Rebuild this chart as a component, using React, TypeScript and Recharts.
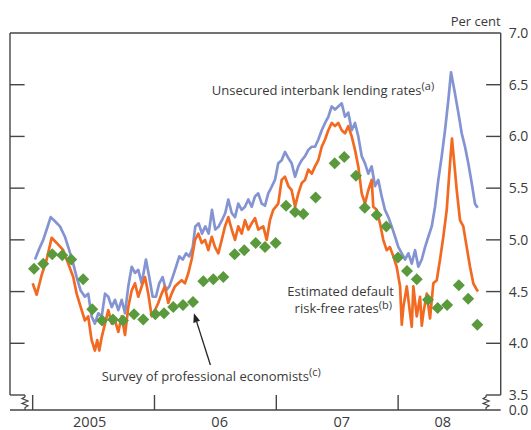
import React from 'react';
import { ComposedChart, Line, Scatter, XAxis, YAxis, ReferenceLine, ReferenceDot } from 'recharts';

const FONT = '"Open Sans", "Noto Sans", sans-serif';
const TEXT = '#3a3a3a';
const FRAME = '#454545';
const BLUE = '#8494d3';
const ORANGE = '#f26a22';
const GREEN = '#5b9a3c';

// axis ranges (decimal years / per cent)
const X_MIN = 2004.814;
const X_MAX = 2008.842;
const Y_MIN = 3.355; // shown as 0.0 below the axis break
const Y_MAX = 7.0;
const BREAK_LEVEL = 3.5;
const BREAK_LEFT = 2004.937;
const BREAK_RIGHT = 2008.722;

const yearBoundaries = [2005, 2006, 2007, 2008];
const yearLabelPositions = [2005.468, 2006.535, 2007.537, 2008.367];
const yearLabels = ['2005', '06', '07', '08'];
const yTicks = [Y_MIN, 3.5, 4.0, 4.5, 5.0, 5.5, 6.0, 6.5, 7.0];
const innerTickLevels = [4.0, 4.5, 5.0, 5.5, 6.0, 6.5];

// Unsecured interbank lending rates (a) [decimal year, per cent]
const interbank: [number, number][] = [
  [2005.019, 4.81], [2005.060, 4.93], [2005.087, 5.00], [2005.115, 5.10], [2005.148, 5.22],
  [2005.183, 5.18], [2005.224, 5.13], [2005.265, 5.03], [2005.300, 4.90], [2005.333, 4.77],
  [2005.361, 4.64], [2005.394, 4.51], [2005.429, 4.45], [2005.456, 4.48], [2005.484, 4.26],
  [2005.511, 4.19], [2005.539, 4.29], [2005.567, 4.26], [2005.594, 4.48], [2005.621, 4.45],
  [2005.649, 4.35], [2005.676, 4.42], [2005.703, 4.32], [2005.731, 4.42], [2005.758, 4.29],
  [2005.785, 4.55], [2005.813, 4.74], [2005.840, 4.68], [2005.867, 4.71], [2005.895, 4.58],
  [2005.930, 4.81], [2005.957, 4.64], [2005.985, 4.45], [2006.012, 4.45], [2006.039, 4.58],
  [2006.067, 4.64], [2006.094, 4.51], [2006.122, 4.55], [2006.149, 4.64], [2006.177, 4.74],
  [2006.204, 4.84], [2006.232, 4.81], [2006.259, 4.87], [2006.286, 4.84], [2006.314, 4.93],
  [2006.335, 5.13], [2006.363, 5.16], [2006.390, 5.06], [2006.417, 5.13], [2006.445, 5.06],
  [2006.472, 5.29], [2006.499, 5.10], [2006.527, 5.13], [2006.554, 5.19], [2006.581, 5.26],
  [2006.606, 5.39], [2006.634, 5.26], [2006.661, 5.22], [2006.688, 5.35], [2006.716, 5.29],
  [2006.743, 5.32], [2006.770, 5.39], [2006.798, 5.32], [2006.825, 5.42], [2006.852, 5.45],
  [2006.880, 5.35], [2006.907, 5.33], [2006.934, 5.45], [2006.948, 5.48], [2006.989, 5.58],
  [2007.016, 5.74], [2007.044, 5.77], [2007.071, 5.85], [2007.099, 5.79], [2007.126, 5.74],
  [2007.154, 5.61], [2007.181, 5.71], [2007.209, 5.77], [2007.236, 5.81], [2007.263, 5.87],
  [2007.291, 5.90], [2007.318, 5.90], [2007.345, 5.97], [2007.373, 6.06], [2007.400, 6.13],
  [2007.427, 6.19], [2007.455, 6.29], [2007.482, 6.26], [2007.509, 6.29], [2007.537, 6.32],
  [2007.564, 6.19], [2007.591, 6.23], [2007.619, 6.06], [2007.646, 6.13], [2007.673, 6.00],
  [2007.701, 5.81], [2007.728, 5.74], [2007.755, 5.64], [2007.783, 5.71], [2007.810, 5.52],
  [2007.837, 5.58], [2007.865, 5.42], [2007.892, 5.29], [2007.920, 5.22], [2007.947, 5.13],
  [2007.975, 5.03], [2008.002, 4.93], [2008.030, 4.87], [2008.057, 4.81], [2008.084, 4.87],
  [2008.112, 4.77], [2008.139, 4.90], [2008.166, 4.74], [2008.194, 4.81], [2008.221, 4.93],
  [2008.248, 5.03], [2008.276, 5.13], [2008.303, 5.32], [2008.330, 5.58], [2008.358, 5.81],
  [2008.385, 6.06], [2008.412, 6.35], [2008.434, 6.62], [2008.466, 6.42], [2008.494, 6.23],
  [2008.522, 6.03], [2008.549, 5.90], [2008.576, 5.74], [2008.604, 5.55], [2008.631, 5.35],
  [2008.653, 5.31],
];

// Estimated default risk-free rates (b)
const riskFree: [number, number][] = [
  [2005.000, 4.58], [2005.033, 4.47], [2005.074, 4.66], [2005.115, 4.81], [2005.156, 5.02],
  [2005.197, 4.97], [2005.251, 4.90], [2005.292, 4.77], [2005.333, 4.64], [2005.361, 4.48],
  [2005.402, 4.32], [2005.429, 4.22], [2005.456, 4.26], [2005.484, 4.03], [2005.511, 3.93],
  [2005.530, 4.03], [2005.547, 3.93], [2005.567, 4.06], [2005.594, 4.19], [2005.621, 4.32],
  [2005.649, 4.19], [2005.676, 4.22], [2005.703, 4.11], [2005.731, 4.26], [2005.758, 4.08],
  [2005.785, 4.35], [2005.813, 4.51], [2005.840, 4.58], [2005.867, 4.45], [2005.895, 4.55],
  [2005.922, 4.64], [2005.949, 4.48], [2005.977, 4.26], [2006.004, 4.32], [2006.031, 4.39],
  [2006.059, 4.48], [2006.086, 4.55], [2006.113, 4.39], [2006.141, 4.48], [2006.168, 4.55],
  [2006.195, 4.58], [2006.223, 4.61], [2006.250, 4.58], [2006.278, 4.68], [2006.305, 4.81],
  [2006.333, 5.00], [2006.360, 5.06], [2006.388, 4.97], [2006.415, 5.00], [2006.442, 4.90],
  [2006.470, 5.03], [2006.497, 4.93], [2006.524, 4.87], [2006.552, 5.00], [2006.579, 5.13],
  [2006.606, 5.22], [2006.634, 5.10], [2006.661, 5.00], [2006.688, 5.13], [2006.716, 5.06],
  [2006.743, 5.19], [2006.770, 5.10], [2006.798, 5.16], [2006.825, 5.21], [2006.852, 5.10],
  [2006.893, 5.13], [2006.921, 5.00], [2006.948, 5.19], [2006.975, 5.29], [2007.016, 5.35],
  [2007.044, 5.58], [2007.071, 5.61], [2007.099, 5.52], [2007.126, 5.48], [2007.154, 5.32],
  [2007.181, 5.45], [2007.209, 5.55], [2007.236, 5.58], [2007.263, 5.68], [2007.291, 5.64],
  [2007.318, 5.71], [2007.345, 5.77], [2007.373, 5.90], [2007.400, 5.97], [2007.427, 6.06],
  [2007.455, 6.13], [2007.482, 6.10], [2007.509, 6.13], [2007.537, 6.06], [2007.564, 6.03],
  [2007.591, 6.10], [2007.619, 6.00], [2007.646, 5.87], [2007.673, 5.71], [2007.701, 5.45],
  [2007.728, 5.35], [2007.755, 5.48], [2007.783, 5.58], [2007.796, 5.32], [2007.824, 5.29],
  [2007.851, 5.16], [2007.878, 5.00], [2007.906, 4.90], [2007.933, 4.93], [2007.961, 4.84],
  [2007.988, 4.74], [2008.016, 4.55], [2008.030, 4.18], [2008.043, 4.35], [2008.071, 4.55],
  [2008.098, 4.29], [2008.112, 4.16], [2008.125, 4.55], [2008.153, 4.26], [2008.180, 4.45],
  [2008.194, 4.17], [2008.207, 4.29], [2008.235, 4.48], [2008.262, 4.24], [2008.289, 4.58],
  [2008.317, 4.61], [2008.344, 4.81], [2008.371, 5.03],
  [2008.399, 5.29], [2008.426, 5.74], [2008.442, 5.98], [2008.461, 5.74], [2008.481, 5.48],
  [2008.508, 5.19], [2008.535, 5.13], [2008.563, 4.93], [2008.590, 4.74], [2008.617, 4.58],
  [2008.645, 4.52], [2008.656, 4.50],
];

// Survey of professional economists (c)
const survey: [number, number][] = [
  [2005.011, 4.72], [2005.087, 4.77], [2005.161, 4.86], [2005.243, 4.85], [2005.317, 4.81],
  [2005.415, 4.62], [2005.489, 4.33], [2005.569, 4.22], [2005.659, 4.23], [2005.741, 4.22],
  [2005.832, 4.28], [2005.908, 4.23], [2006.007, 4.28], [2006.078, 4.29], [2006.154, 4.35],
  [2006.234, 4.37], [2006.316, 4.40], [2006.401, 4.60], [2006.483, 4.62], [2006.565, 4.64],
  [2006.658, 4.86], [2006.737, 4.90], [2006.831, 4.97], [2006.907, 4.93], [2006.995, 4.97],
  [2007.080, 5.33], [2007.154, 5.27], [2007.222, 5.25], [2007.323, 5.41], [2007.479, 5.74],
  [2007.558, 5.80], [2007.654, 5.62], [2007.726, 5.31], [2007.824, 5.24], [2007.903, 5.13],
  [2007.999, 4.83], [2008.073, 4.70], [2008.153, 4.62], [2008.245, 4.42], [2008.325, 4.34],
  [2008.402, 4.37], [2008.498, 4.56], [2008.575, 4.43], [2008.650, 4.18],
];

const toRows = (pairs: [number, number][]) => pairs.map(([t, v]) => ({ t, v }));
const interbankData = toRows(interbank);
const riskFreeData = toRows(riskFree);
const surveyData = toRows(survey);

const Diamond = (props: any) => {
  const { cx, cy } = props;
  if (cx == null || cy == null) return null;
  const r = 6;
  return (
    <polygon
      points={`${cx},${cy - r} ${cx + r},${cy} ${cx},${cy + r} ${cx - r},${cy}`}
      fill={GREEN}
    />
  );
};

const BreakMark = (props: any) => {
  const { x1, y1, y2 } = props;
  const h = y2 - y1;
  const a = 3;
  const d = [
    `M${x1},${y1}`,
    `L${x1},${y1 + h * 0.12}`,
    `L${x1 - a},${y1 + h * 0.24}`,
    `L${x1 + a},${y1 + h * 0.4}`,
    `L${x1 - a},${y1 + h * 0.56}`,
    `L${x1 + a},${y1 + h * 0.72}`,
    `L${x1},${y1 + h * 0.84}`,
    `L${x1},${y2}`,
  ].join(' ');
  return <path d={d} fill="none" stroke={FRAME} strokeWidth={1.2} />;
};

const Arrow = (props: any) => {
  const { x1, y1, x2, y2 } = props;
  const ang = Math.atan2(y2 - y1, x2 - x1);
  const len = 9;
  const w = 3.5;
  const bx = x2 - len * Math.cos(ang);
  const by = y2 - len * Math.sin(ang);
  const px = -Math.sin(ang) * w;
  const py = Math.cos(ang) * w;
  return (
    <g>
      <line x1={x1} y1={y1} x2={bx} y2={by} stroke="#222" strokeWidth={1.3} />
      <polygon points={`${x2},${y2} ${bx + px},${by + py} ${bx - px},${by - py}`} fill="#222" />
    </g>
  );
};

const textStyle = { fontFamily: FONT, fontSize: 13, fill: TEXT };
const SUP = 11;

const App = () => {
  const frame = { stroke: FRAME, strokeWidth: 1.4, ifOverflow: 'visible' as const };
  return (
    <div style={{ position: 'absolute', left: 0, top: 0, width: 531, height: 430 }}>
      <ComposedChart
        width={531}
        height={430}
        margin={{ top: 33, right: 0, bottom: 0, left: 10 }}
        style={{ fontFamily: FONT }}
      >
        <XAxis
          dataKey="t"
          type="number"
          domain={[X_MIN, X_MAX]}
          allowDataOverflow
          ticks={yearLabelPositions}
          interval={0}
          tickFormatter={(v: number) => yearLabels[yearLabelPositions.indexOf(v)]}
          tickLine={false}
          tickSize={0}
          tickMargin={7}
          axisLine={{ stroke: FRAME, strokeWidth: 1.4 }}
          tick={{ fill: TEXT, fontSize: 14.5, fontFamily: FONT }}
          height={20}
        />
        <YAxis
          orientation="right"
          type="number"
          domain={[Y_MIN, Y_MAX]}
          allowDataOverflow
          ticks={yTicks}
          interval={0}
          tickFormatter={(v: number) => (v === Y_MIN ? '0.0' : v.toFixed(1))}
          axisLine={false}
          tickLine={false}
          tickSize={0}
          tickMargin={8}
          tick={{ fill: TEXT, fontSize: 14, fontFamily: FONT }}
          width={30.3}
        />

        {/* frame */}
        <ReferenceLine segment={[{ x: X_MIN, y: Y_MAX }, { x: X_MAX, y: Y_MAX }]} {...frame} />
        <ReferenceLine segment={[{ x: X_MIN, y: BREAK_LEVEL }, { x: X_MIN, y: Y_MAX }]} {...frame} />
        <ReferenceLine segment={[{ x: X_MAX, y: BREAK_LEVEL }, { x: X_MAX, y: Y_MAX }]} {...frame} />
        <ReferenceLine segment={[{ x: X_MIN, y: BREAK_LEVEL }, { x: BREAK_LEFT, y: BREAK_LEVEL }]} {...frame} />
        <ReferenceLine segment={[{ x: BREAK_RIGHT, y: BREAK_LEVEL }, { x: X_MAX, y: BREAK_LEVEL }]} {...frame} />
        <ReferenceLine
          segment={[{ x: BREAK_LEFT, y: BREAK_LEVEL }, { x: BREAK_LEFT, y: Y_MIN }]}
          ifOverflow="visible"
          shape={BreakMark}
        />
        <ReferenceLine
          segment={[{ x: BREAK_RIGHT, y: BREAK_LEVEL }, { x: BREAK_RIGHT, y: Y_MIN }]}
          ifOverflow="visible"
          shape={BreakMark}
        />
        {yearBoundaries.map((yr) => (
          <ReferenceLine key={`yb${yr}`} segment={[{ x: yr, y: Y_MIN }, { x: yr, y: BREAK_LEVEL }]} {...frame} />
        ))}
        {innerTickLevels.map((lv) => (
          <ReferenceLine key={`tl${lv}`} segment={[{ x: X_MIN, y: lv }, { x: X_MIN + 0.12, y: lv }]} {...frame} />
        ))}
        {innerTickLevels.map((lv) => (
          <ReferenceLine key={`tr${lv}`} segment={[{ x: X_MAX - 0.12, y: lv }, { x: X_MAX, y: lv }]} {...frame} />
        ))}

        <Line data={interbankData} dataKey="v" type="linear" stroke={BLUE} strokeWidth={2.7} strokeLinejoin="round" dot={false} isAnimationActive={false} />
        <Line data={riskFreeData} dataKey="v" type="linear" stroke={ORANGE} strokeWidth={2.7} strokeLinejoin="round" dot={false} isAnimationActive={false} />
        <Scatter data={surveyData} dataKey="v" shape={Diamond} isAnimationActive={false} />

        {/* annotations */}
        <ReferenceDot
          x={X_MAX}
          y={7.068}
          r={0}
          ifOverflow="visible"
          shape={(p: any) => (
            <text x={p.cx} y={p.cy} textAnchor="end" {...textStyle}>Per cent</text>
          )}
        />
        <ReferenceDot
          x={2006.47}
          y={6.401}
          r={0}
          ifOverflow="visible"
          shape={(p: any) => (
            <text x={p.cx} y={p.cy} {...textStyle}>
              Unsecured interbank lending rates<tspan dy={-5} fontSize={SUP}>(a)</tspan>
            </text>
          )}
        />
        <ReferenceDot
          x={2007.966}
          y={4.458}
          r={0}
          ifOverflow="visible"
          shape={(p: any) => (
            <g>
              <text x={p.cx} y={p.cy} textAnchor="end" {...textStyle}>Estimated default</text>
              <text x={p.cx - 2} y={p.cy + 17.5} textAnchor="end" {...textStyle}>
                risk-free rates<tspan dy={-4} fontSize={SUP}>(b)</tspan>
              </text>
            </g>
          )}
        />
        <ReferenceDot
          x={2005.5665}
          y={3.635}
          r={0}
          ifOverflow="visible"
          shape={(p: any) => (
            <text x={p.cx} y={p.cy} {...textStyle}>
              Survey of professional economists<tspan dy={-5} fontSize={SUP}>(c)</tspan>
            </text>
          )}
        />
        <ReferenceLine
          segment={[{ x: 2006.459, y: 3.79 }, { x: 2006.324, y: 4.29 }]}
          ifOverflow="visible"
          shape={Arrow}
        />
      </ComposedChart>
    </div>
  );
};

export default App;
